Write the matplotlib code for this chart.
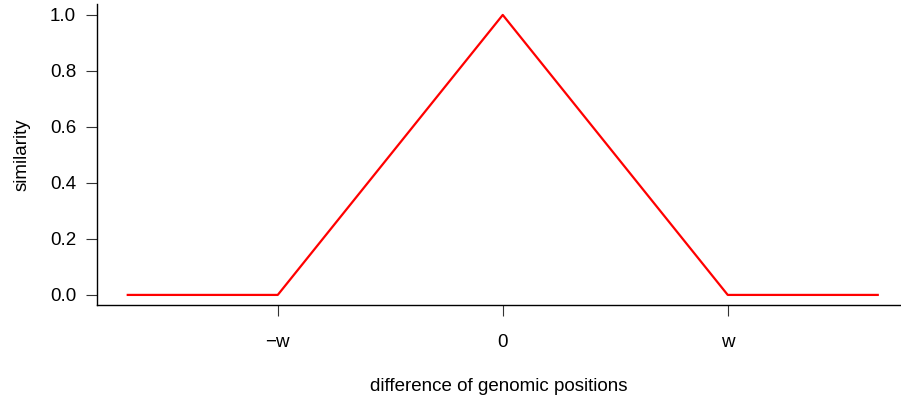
import matplotlib
matplotlib.use("Agg")
import matplotlib.pyplot as plt

plt.rcParams['font.family'] = ['Liberation Sans', 'DejaVu Sans']

# similarity as a function of position difference (w = 3)
w = 3
x_vals = [-5, -w, 0, w, 5]
y_vals = [0.0, 0.0, 1.0, 0.0, 0.0]
x_ticks = [-w, 0, w]
x_tick_labels = ["\u2212w", "0", "w"]
y_ticks = [0.0, 0.2, 0.4, 0.6, 0.8, 1.0]
y_tick_labels = ["0.0", "0.2", "0.4", "0.6", "0.8", "1.0"]

fig = plt.figure(figsize=(9.01, 4.01), dpi=100)
ax = fig.add_axes([97 / 901, 96 / 401, 1 - 97 / 901, 301 / 401])

ax.plot(x_vals, y_vals, color="#ff0000", lw=1.6)

ax.set_xlim(-5.41, 5.31)
ax.set_ylim(-0.036, 1.039)

ax.spines['top'].set_visible(False)
ax.spines['right'].set_visible(False)
for s in ['left', 'bottom']:
    ax.spines[s].set_linewidth(1.0)
    ax.spines[s].set_color("black")

ax.set_xticks(x_ticks)
ax.set_xticklabels(x_tick_labels)
ax.set_yticks(y_ticks)
ax.set_yticklabels(y_tick_labels)
ax.tick_params(axis='both', length=8, width=0.8, color="#333333", labelsize=13.5, pad=13)
ax.tick_params(axis='y', pad=7)

ax.set_xlabel("difference of genomic positions", fontsize=13.5, labelpad=19)
ax.set_ylabel("similarity", fontsize=13.5, labelpad=14)

fig.savefig("out.png", dpi=100)
